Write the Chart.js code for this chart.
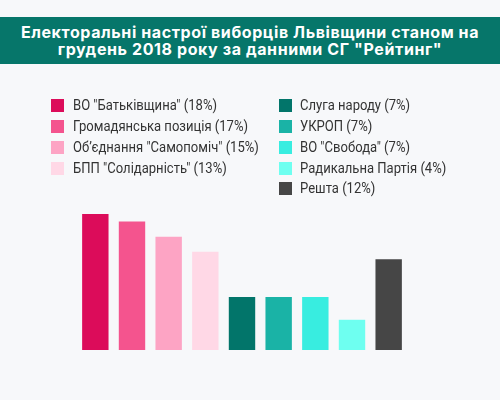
<!DOCTYPE html>
<html><head><meta charset="utf-8">
<script src="https://cdn.jsdelivr.net/npm/chart.js@4/dist/chart.umd.min.js"></script>
<style>
html,body{margin:0;padding:0;width:500px;height:400px;overflow:hidden;background:#f7f8fa;font-family:Roboto,"Noto Sans",sans-serif;}
#title{position:absolute;left:0;top:17px;width:500px;height:47px;background:#06766a;color:#fff;font-weight:bold;font-size:16px;line-height:17.5px;letter-spacing:0.6px;text-align:center;box-sizing:border-box;padding-top:6.5px;font-family:Inter,"Open Sans",Roboto,sans-serif;}
.leg{position:absolute;font-size:15px;color:#333;white-space:nowrap;}
.leg .sw{position:absolute;left:0;top:3px;width:13px;height:13px;}
.leg .tx{position:absolute;top:0;line-height:19px;transform:scaleX(0.87);transform-origin:0 0;}
#wrap{position:absolute;left:0;top:0;width:500px;height:400px;}
</style></head>
<body>
<div id="wrap"><canvas id="c" width="500" height="400"></canvas></div>
<div id="title">Електоральні настрої виборців Львівщини станом на<br>грудень 2018 року за данними СГ "Рейтинг"</div>
<div id="legend"></div>
<script>
const categories = ['ВО "Батьківщина"','Громадянська позиція','Об\u2019єднання "Самопоміч"','БПП "Солідарність"','Слуга народу','УКРОП','ВО "Свобода"','Радикальна Партія','Решта'];
const values = [18,17,15,13,7,7,7,4,12];
const colors = ['#dc0c5a','#f4548e','#fda4c4','#ffd8e6','#02756a','#1ab3a6','#38ede0','#6efff0','#464646'];

// legend (two columns)
const legend = document.getElementById('legend');
categories.forEach((c,i)=>{
  const col = i<4 ? 0 : 1;
  const row = col===0 ? i : i-4;
  const d = document.createElement('div');
  d.className='leg';
  d.style.left = (col===0 ? 51 : 279)+'px';
  d.style.top = (96 + row*20.85)+'px';
  d.innerHTML = '<span class="sw" style="background:'+colors[i]+'"></span><span class="tx" style="left:'+(col===0?22:21)+'px">'+c+' ('+values[i]+'%)</span>';
  legend.appendChild(d);
});

new Chart(document.getElementById('c'),{
  type:'bar',
  data:{labels:categories,datasets:[{data:values,backgroundColor:colors,barPercentage:0.72,categoryPercentage:1}]},
  options:{
    responsive:false,animation:false,
    layout:{padding:{left:77,right:93,top:214,bottom:50}},
    plugins:{legend:{display:false},tooltip:{enabled:false}},
    scales:{
      x:{display:false,grid:{display:false}},
      y:{display:false,min:0,max:18,grid:{display:false}}
    }
  }
});
</script>
</body></html>
